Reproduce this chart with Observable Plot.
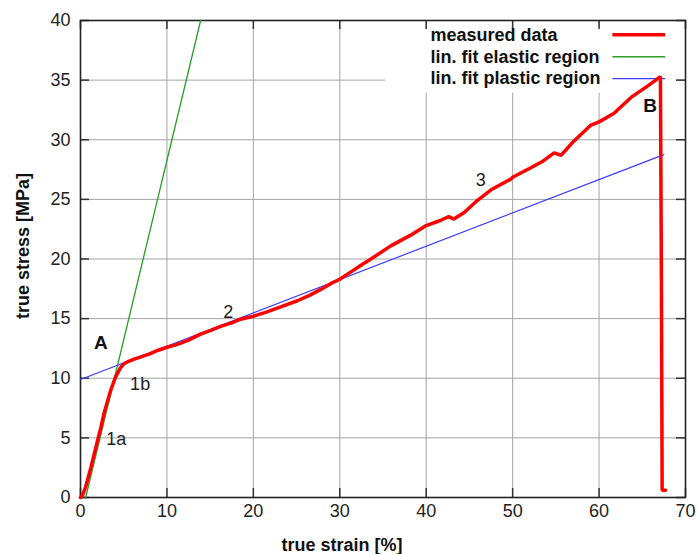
<!DOCTYPE html>
<html>
<head>
<meta charset="utf-8">
<script src="https://cdn.jsdelivr.net/npm/d3@7"></script>
<script src="https://cdn.jsdelivr.net/npm/@observablehq/plot@0.6"></script>
<style>
  html, body { margin: 0; padding: 0; background: #fff; }
  #chart svg { display: block; }
</style>
</head>
<body>
<div id="chart"></div>
<script>
// ---- data ----
const measuredStrain = [0, 0.3, 0.6, 1.2, 1.6, 2.05, 2.4, 2.7, 3.1, 3.5, 4.05, 4.6, 5.0, 5.5, 6.2, 7.0, 8.0, 9.0, 10.0, 11.0, 11.6, 12.5, 13.9, 15.0, 16.2, 17.5, 18.5, 20.0, 21.5, 23.0, 25.1, 26.5, 27.8, 29.0, 30.0, 31.25, 32.5, 33.6, 35.9, 38.2, 40.0, 41.7, 42.6, 43.2, 44.4, 45.9, 47.5, 49.8, 50.0, 52.1, 53.5, 54.8, 55.6, 57.1, 59.0, 60.0, 61.7, 63.7, 65.6, 67.1, 67.2, 67.3, 67.7];
const measuredStress = [0, 0.3, 0.9, 2.5, 3.7, 5.0, 6.0, 7.0, 8.0, 9.0, 10.1, 10.85, 11.2, 11.4, 11.6, 11.8, 12.05, 12.35, 12.6, 12.8, 12.95, 13.2, 13.7, 14.0, 14.35, 14.65, 14.95, 15.2, 15.55, 15.95, 16.5, 16.95, 17.45, 17.95, 18.3, 18.9, 19.5, 20.0, 21.1, 22.0, 22.8, 23.25, 23.55, 23.35, 23.9, 24.9, 25.8, 26.7, 26.85, 27.65, 28.2, 28.9, 28.7, 29.9, 31.2, 31.5, 32.2, 33.55, 34.5, 35.3, 20.0, 0.6, 0.6];

const elasticStrain = [0.6, 13.9];
const elasticStress = [0, 40];

const plasticStrain = [0, 67.5];
const plasticStress = [9.9, 28.75];

const xTicks = [0, 10, 20, 30, 40, 50, 60, 70];
const yTicks = [0, 5, 10, 15, 20, 25, 30, 35, 40];

const legendLabels = ["measured data", "lin. fit elastic region", "lin. fit plastic region"];
const legendColors = ["#ff0000", "#2a9d2a", "#3b3bff"];
const legendWidths = [3.5, 1.5, 1.2];

const annotText = ["A", "1a", "1b", "2", "3", "B"];
const annotX = [2.37, 4.15, 6.9, 17.1, 46.3, 65.9];
const annotY = [13.0, 4.9, 9.5, 15.5, 26.6, 32.8];
const annotBold = [true, false, false, false, false, true];

// ---- derived tables ----
const measured = measuredStrain.map((x, i) => ({x, y: measuredStress[i]}));
const elastic = elasticStrain.map((x, i) => ({x, y: elasticStress[i]}));
const plastic = plasticStrain.map((x, i) => ({x, y: plasticStress[i]}));
const annots = annotText.map((t, i) => ({t, x: annotX[i], y: annotY[i], bold: annotBold[i]}));

// legend layout (data units of the chart)
const legTextX = 40.5, legLineX1 = 61.6, legLineX2 = 67.7, legTop = 38.8, legStep = 1.84;
const legend = legendLabels.map((label, i) => ({label, color: legendColors[i], w: legendWidths[i], y: legTop - i * legStep}));
const legendBox = [{x1: 35.3, x2: 69.0, y1: 33.9, y2: 39.35}];

const W = 697, H = 554, mL = 80, mR = 12, mT = 20, mB = 57;
const innerW = W - mL - mR, innerH = H - mT - mB, tick = 9;
const font = "'Liberation Sans', Arial, sans-serif";

const chart = Plot.plot({
  width: W, height: H,
  marginLeft: mL, marginRight: mR, marginTop: mT, marginBottom: mB,
  style: {fontFamily: font, fontSize: "18px", color: "#222", background: "#fff"},
  x: {domain: [0, 70], ticks: xTicks},
  y: {domain: [0, 40], ticks: yTicks},
  marks: [
    Plot.ruleX(xTicks, {stroke: "#a3a3a3", strokeWidth: 1}),
    Plot.ruleY(yTicks, {stroke: "#a3a3a3", strokeWidth: 1}),
    Plot.rect(legendBox, {x1: "x1", x2: "x2", y1: "y1", y2: "y2", fill: "#fff"}),
    // inward ticks on all four sides
    Plot.ruleX(xTicks, {insetTop: innerH - tick, stroke: "#333", strokeWidth: 1.5}),
    Plot.ruleX(xTicks, {insetBottom: innerH - tick, stroke: "#333", strokeWidth: 1.5}),
    Plot.ruleY(yTicks, {insetRight: innerW - tick, stroke: "#333", strokeWidth: 1.5}),
    Plot.ruleY(yTicks, {insetLeft: innerW - tick, stroke: "#333", strokeWidth: 1.5}),
    Plot.frame({stroke: "#222", strokeWidth: 1.6}),
    Plot.axisX({ticks: xTicks, tickSize: 0, tickPadding: 7, fontSize: 18, label: null, fill: "#222"}),
    Plot.axisY({ticks: yTicks, tickSize: 0, tickPadding: 10, fontSize: 18, label: null, fill: "#222"}),
    Plot.text(["true strain [%]"], {frameAnchor: "bottom", dx: -41, dy: 48, lineAnchor: "middle", fontWeight: "bold", fontSize: 18, fill: "#111"}),
    Plot.text(["true stress [MPa]"], {frameAnchor: "left", rotate: -90, dx: -57, dy: 60, lineAnchor: "middle", fontWeight: "bold", fontSize: 18, fill: "#111"}),
    // fits
    Plot.line(elastic, {x: "x", y: "y", stroke: "#2a9d2a", strokeWidth: 1.3}),
    Plot.line(plastic, {x: "x", y: "y", stroke: "#3b3bff", strokeWidth: 1.2}),
    // legend
    Plot.text(legend, {x: () => legTextX, y: "y", text: "label", textAnchor: "start", fontWeight: "bold", fontSize: 18, fill: "#111"}),
    Plot.ruleY(legend, {y: "y", x1: () => legLineX1, x2: () => legLineX2, stroke: "color", strokeWidth: "w"}),
    // annotations
    Plot.text(annots.filter(d => !d.bold), {x: "x", y: "y", text: "t", fontSize: 18, fill: "#222"}),
    Plot.text(annots.filter(d => d.bold), {x: "x", y: "y", text: "t", fontSize: 19, fontWeight: "bold", fill: "#111"}),
    // measured data
    Plot.line(measured, {x: "x", y: "y", stroke: "#ff0000", strokeWidth: 3.5, strokeLinejoin: "miter"})
  ]
});
document.getElementById("chart").appendChild(chart);
</script>
</body>
</html>
